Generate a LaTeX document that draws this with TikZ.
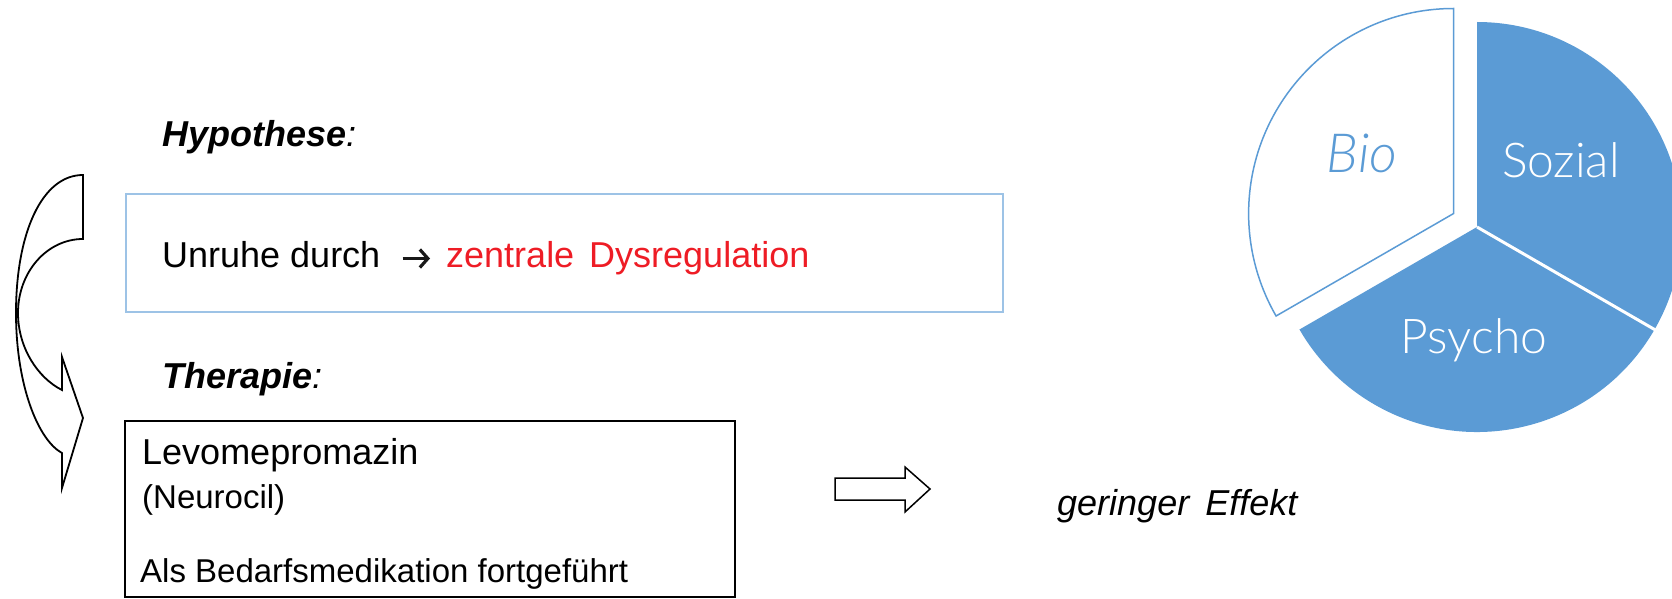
\documentclass[tikz,border=0pt]{standalone}
\usepackage{fontspec}
\usetikzlibrary{arrows.meta}
\setmainfont{Liberation Sans}
\IfFontExistsTF{Lato Light}{\newfontfamily\piefont{Lato Light}}{\newfontfamily\piefont{Open Sans}}
\definecolor{pieblue}{HTML}{5B9BD5}
\definecolor{boxblue}{HTML}{9DC3E6}
\definecolor{txtred}{HTML}{EE1C25}
\begin{document}
\begin{tikzpicture}[x=1pt,y=1pt,
  basetext/.style={inner sep=0pt, anchor=base west},
  hbox/.style={draw=boxblue, line width=2pt, inner sep=0pt},
  tbox/.style={draw=black, line width=1.5pt, inner sep=0pt},
  blockarrow/.style={draw=black, line width=1.8pt, fill=white, line join=miter},
  txtarrow/.style={draw=black!90, line width=3.2pt, -{Straight Barb[length=8pt, width=18pt, line width=3.2pt]}},
  pietext/.style={inner sep=0pt, anchor=base, font=\piefont\fontsize{48}{52}\selectfont},
]
\useasboundingbox (0,0) rectangle (1672,598);

% Hypothese
\node[basetext] (hyp) at (162,451) {\fontsize{36}{40}\selectfont\textbf{\textit{Hypothese}}\textit{:}};
\node[hbox, minimum width=877pt, minimum height=118pt] (hbox) at (564.5,345) {};
\node[basetext] (unr) at (162,331) {\fontsize{36}{40}\selectfont Unruhe durch};
\node[basetext, text=txtred] (zd) at (446,331) {\fontsize{36}{40}\selectfont zentrale\hspace{15pt}Dysregulation};
\draw[txtarrow] ([xshift=22pt, yshift=8.5pt]unr.base east) -- ([xshift=-16pt, yshift=8.5pt]zd.base west);

% Therapie
\node[basetext] (ther) at (162,210) {\fontsize{36}{40}\selectfont\textbf{\textit{Therapie}}\textit{:}};
\node[tbox, minimum width=610pt, minimum height=176pt] (tbox) at (430,89) {};
\node[basetext] (levo) at (142,134) {\fontsize{36}{40}\selectfont Levomepromazin};
\node[basetext] (neuro) at (142,90) {\fontsize{33}{36}\selectfont (Neurocil)};
\node[basetext] (bedarf) at (140,16) {\fontsize{33}{36}\selectfont Als Bedarfsmedikation fortgeführt};

% hollow arrow and effect
\draw[blockarrow, line width=1.5pt] (835,98) -- (905,98) -- (905,86) -- (930,109) -- (905,131) -- (905,120) -- (835,120) -- cycle;
\node[basetext] (eff) at (1057,83) {\fontsize{36}{40}\selectfont\textit{geringer\hspace{0.45em}Effekt}};

% curved arrow
\draw[blockarrow] (83,423) .. controls (42,423) and (16,365) .. (16,285)
  .. controls (16,213) and (38,158) .. (62,145)
  -- (62,110) -- (83,180) -- (62,241) -- (62,208)
  .. controls (38,220) and (18,250) .. (18,285)
  .. controls (18,326) and (47,359) .. (83,359) -- cycle;

% pie chart
\begin{scope}
\clip (0,0) rectangle (1672,598);
\coordinate (C) at (1477,371);
\fill[pieblue] (C) -- ++(90:205) arc[start angle=90, end angle=-30, radius=205] -- cycle;
\fill[pieblue] (C) -- ++(-30:205) arc[start angle=-30, end angle=-150, radius=205] -- cycle;
\draw[white, line width=3pt] (C) -- ++(-30:212);
\draw[draw=pieblue, line width=1.5pt, fill=white] ([shift={(150:27)}]C) -- ++(90:205) arc[start angle=90, end angle=210, radius=205] -- cycle;
\end{scope}
\node[pietext, text=pieblue, font=\piefont\itshape\fontsize{54}{58}\selectfont] (bio) at (1362,425) {Bio};
\node[pietext, text=white] (soz) at (1561,420) {Sozial};
\node[pietext, text=white] (psy) at (1474,245) {Psycho};
\end{tikzpicture}
\end{document}
